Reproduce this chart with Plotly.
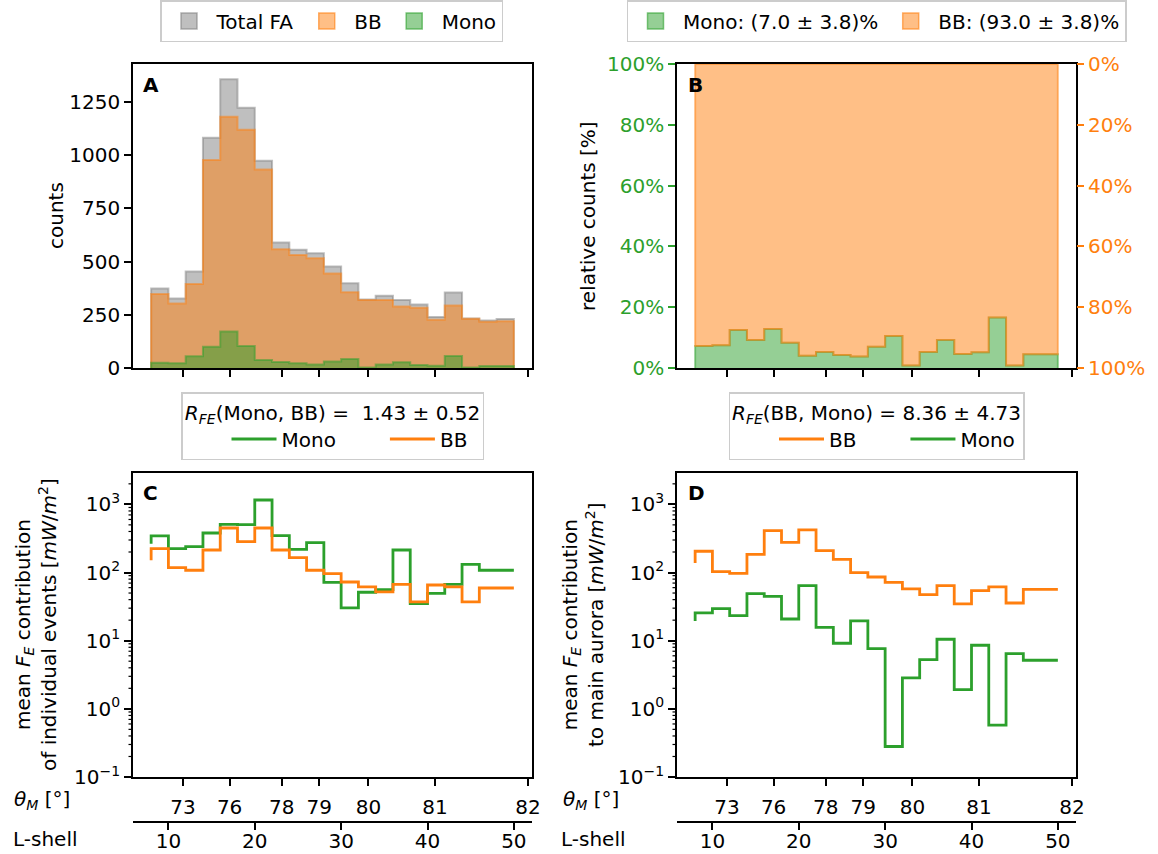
import numpy as np
import plotly.graph_objects as go

# ---------------- data ----------------
L_edges = [8, 10, 12, 14, 16, 18, 20, 22, 24, 26, 28, 30, 32, 34, 36, 38, 40, 42, 44, 46, 48, 50]
theta_ticks = [73, 76, 78, 79, 80, 81, 82]
L_ticks = [10, 20, 30, 40, 50]
pct_ticks = [0, 20, 40, 60, 80, 100]
count_ticks = [0, 250, 500, 750, 1000, 1250]
log_ticks = [-1, 0, 1, 2, 3]

total_counts = [373, 327, 453, 1081, 1356, 1222, 973, 589, 555, 539, 477, 398, 322, 339, 320, 298, 239, 355, 233, 223, 230]
bb_counts = [348, 303, 395, 977, 1180, 1119, 933, 558, 531, 516, 444, 356, 320, 320, 289, 283, 227, 294, 231, 217, 220]
mono_counts = [25, 22, 55, 100, 172, 103, 37, 28, 22, 17, 31, 42, 2, 16, 27, 14, 11, 56, 2, 9, 9]

mono_pct = [7.2, 7.5, 12.5, 9.2, 12.8, 8.3, 4.0, 5.3, 4.3, 3.8, 7.0, 10.5, 0.8, 5.3, 9.2, 4.6, 5.2, 16.6, 0.8, 4.5, 4.5]

# panel C: mean F_E contribution of individual events (first value = start point)
mono_fe_ind = [265, 344, 224, 239, 380, 509, 504, 1158, 348, 219, 274, 71.8, 30.2, 51.3, 56.1, 214, 34.9, 49.5, 67.1, 132, 108, 108]
bb_fe_ind = [151, 224, 118, 108, 214, 450, 284, 450, 214, 165, 108, 96.2, 72.6, 61.4, 51.9, 67.1, 37.0, 65.6, 61.4, 37.0, 59.3, 59.3]

# panel D: mean F_E contribution to main aurora (first value = start point)
bb_fe_main = [138, 205, 103, 97.4, 185, 411, 277, 421, 209, 156, 99.6, 86.0, 71.8, 57.4, 47.3, 64.1, 34.6, 54.2, 61.4, 35.7, 56.7, 56.7]
mono_fe_main = [19.5, 25.5, 29.5, 23.3, 49.0, 44.8, 20.8, 64.1, 15.7, 9.16, 19.5, 7.66, 0.280, 2.84, 5.28, 10.5, 1.92, 8.57, 0.575, 6.46, 5.16, 5.16]

# ---------------- styling ----------------
W, H = 1158, 854
FONT = "DejaVu Sans"
FS = 20
GREEN = "#2ca02c"
ORANGE = "#ff7f0e"
GRAY = "#808080"


def fx(px):
    return px / W


def fy(py):
    return 1 - py / H


def rgba(hexc, a):
    h = hexc.lstrip("#")
    return f"rgba({int(h[0:2],16)},{int(h[2:4],16)},{int(h[4:6],16)},{a})"


XL_PX = (133, 532)
XR_PX = (677, 1076)
XL = [fx(XL_PX[0]), fx(XL_PX[1])]
XR = [fx(XR_PX[0]), fx(XR_PX[1])]
YT = [fy(368), fy(64)]
YB = [fy(777), fy(473)]
x_range = [5.9, 52.1]
log_range = [-1, 3.46]
theta_pos = [1.0 / np.cos(np.radians(t)) ** 2 for t in theta_ticks]
minor_vals = [k * 10.0 ** n for n in range(-1, 4) for k in range(2, 10) if np.log10(k * 10.0 ** n) < log_range[1]]


def hist_path(edges, vals):
    x = [edges[0]] + list(edges[:-1]) + [edges[-1], edges[-1]]
    y = [0] + list(vals) + [vals[-1], 0]
    return x, y


def step_vertices(edges, vals):
    xs = list(np.repeat(edges, 2)[1:-1])
    ys = list(np.repeat(vals, 2))
    return xs, ys


def legend_patch(name, col, legend):
    fig.add_trace(go.Scatter(x=[None], y=[None], mode="markers", name=name, legend=legend,
                             marker=dict(symbol="square", size=22, color=rgba(col, 0.5),
                                         line=dict(color=rgba(col, 0.6), width=1.5)),
                             xaxis="x", yaxis="y", hoverinfo="skip"))


fig = go.Figure()

# ---- panel A ----
for name, vals, col in [("Total FA", total_counts, GRAY), ("BB", bb_counts, ORANGE), ("Mono", mono_counts, GREEN)]:
    x, y = hist_path(L_edges, vals)
    fig.add_trace(go.Scatter(x=x, y=y, mode="lines", line=dict(shape="hv", color=rgba(col, 0.5), width=2),
                             fill="tozeroy", fillcolor=rgba(col, 0.5), name=name, showlegend=False,
                             xaxis="x", yaxis="y", hoverinfo="skip"))
    legend_patch(name, col, "legend")

# ---- panel B ----
x, y = hist_path(L_edges, mono_pct)
fig.add_trace(go.Scatter(x=x, y=y, mode="lines", line=dict(shape="hv", color=rgba(GREEN, 0.5), width=2),
                         fill="tozeroy", fillcolor=rgba(GREEN, 0.5), name="Mono", showlegend=False,
                         xaxis="x2", yaxis="y2", hoverinfo="skip"))
sx, sy = step_vertices(L_edges, mono_pct)
px_ = [L_edges[0], L_edges[-1]] + sx[::-1] + [L_edges[0]]
py_ = [pct_ticks[-1], pct_ticks[-1]] + sy[::-1] + [pct_ticks[-1]]
fig.add_trace(go.Scatter(x=px_, y=py_, mode="lines", line=dict(color=rgba(ORANGE, 0.5), width=2),
                         fill="toself", fillcolor=rgba(ORANGE, 0.5), name="BB", showlegend=False,
                         xaxis="x2", yaxis="y2", hoverinfo="skip"))
legend_patch("Mono: (7.0 ± 3.8)%", GREEN, "legend2")
legend_patch("BB: (93.0 ± 3.8)%", ORANGE, "legend2")
fig.add_trace(go.Scatter(x=[None], y=[pct_ticks[1]], mode="markers", marker=dict(opacity=0),
                         xaxis="x2", yaxis="y5", showlegend=False, hoverinfo="skip"))

# ---- panel C ----
fig.add_trace(go.Scatter(x=L_edges, y=mono_fe_ind, mode="lines", line=dict(shape="vh", color=GREEN, width=2.8),
                         name="Mono", legend="legend3", xaxis="x3", yaxis="y3", hoverinfo="skip"))
fig.add_trace(go.Scatter(x=L_edges, y=bb_fe_ind, mode="lines", line=dict(shape="vh", color=ORANGE, width=2.8),
                         name="BB", legend="legend3", xaxis="x3", yaxis="y3", hoverinfo="skip"))
# ---- panel D ----
fig.add_trace(go.Scatter(x=L_edges, y=bb_fe_main, mode="lines", line=dict(shape="vh", color=ORANGE, width=2.8),
                         name="BB", legend="legend4", xaxis="x4", yaxis="y4", hoverinfo="skip"))
fig.add_trace(go.Scatter(x=L_edges, y=mono_fe_main, mode="lines", line=dict(shape="vh", color=GREEN, width=2.8),
                         name="Mono", legend="legend4", xaxis="x4", yaxis="y4", hoverinfo="skip"))
# helper traces for L-shell axes
fig.add_trace(go.Scatter(x=L_ticks, y=[None] * len(L_ticks), xaxis="x5", yaxis="y3", showlegend=False, hoverinfo="skip"))
fig.add_trace(go.Scatter(x=L_ticks, y=[None] * len(L_ticks), xaxis="x6", yaxis="y4", showlegend=False, hoverinfo="skip"))

# minor log ticks: short marks placed along the log axis (paper fraction of the log scale)
for left_px in [XL_PX[0], XR_PX[0]]:
    for v in minor_vals:
        frac = (np.log10(v) - log_range[0]) / (log_range[1] - log_range[0])
        yp = float(YB[0] + frac * (YB[1] - YB[0]))
        fig.add_shape(type="line", xref="paper", yref="paper", x0=fx(left_px - 4.5), x1=fx(left_px - 0.8),
                      y0=yp, y1=yp, line=dict(color="black", width=1.2), layer="above")

axis_common = dict(showgrid=False, zeroline=False, showline=True, linecolor="black", linewidth=1.6,
                   ticks="outside", ticklen=7, tickwidth=1.6, tickcolor="black", automargin=False,
                   tickfont=dict(family=FONT, size=FS, color="black"))

theta_text = [str(t) for t in theta_ticks]
pct_text = [f"{p}%" for p in pct_ticks]
count_text = [str(c) for c in count_ticks]
L_text = [str(v) for v in L_ticks]
log_text = ["10<sup>\u22121</sup>", "10<sup>0</sup>", "10<sup>1</sup>", "10<sup>2</sup>", "10<sup>3</sup>"]

leg_common = dict(bordercolor="#cccccc", borderwidth=1.5, bgcolor="white", font=dict(family=FONT, size=FS),
                  traceorder="normal", orientation="h", xanchor="center", itemwidth=45)

fig.update_layout(
    template="none",
    width=W, height=H, margin=dict(l=0, r=0, t=0, b=0, autoexpand=False),
    paper_bgcolor="white", plot_bgcolor="white",
    font=dict(family=FONT, size=FS, color="black"),
    xaxis=dict(domain=XL, anchor="y", range=x_range, tickvals=theta_pos, showticklabels=False, mirror=True, **axis_common),
    yaxis=dict(domain=YT, anchor="x", range=[0, 1428], tickvals=count_ticks, ticktext=count_text, mirror=True, **axis_common),
    xaxis2=dict(domain=XR, anchor="y2", range=x_range, tickvals=theta_pos, showticklabels=False, mirror=True, **axis_common),
    yaxis2=dict(domain=YT, anchor="x2", range=[0, 100], tickvals=pct_ticks, ticktext=pct_text, mirror=True,
                **{**axis_common, "tickcolor": GREEN, "tickfont": dict(family=FONT, size=FS, color=GREEN)}),
    yaxis5=dict(overlaying="y2", anchor="x2", side="right", range=[100, 0], tickvals=pct_ticks, ticktext=pct_text,
                showgrid=False, zeroline=False, showline=False, ticks="outside", ticklen=7, tickwidth=1.6,
                automargin=False, tickcolor=ORANGE, tickfont=dict(family=FONT, size=FS, color=ORANGE)),
    xaxis3=dict(domain=XL, anchor="y3", range=x_range, tickvals=theta_pos, ticktext=theta_text, mirror=True,
                ticklabelstandoff=4, **axis_common),
    yaxis3=dict(domain=YB, anchor="x3", type="log", range=log_range, tickvals=[10.0 ** k for k in log_ticks],
                ticktext=log_text, mirror=True, **axis_common),
    xaxis4=dict(domain=XR, anchor="y4", range=x_range, tickvals=theta_pos, ticktext=theta_text, mirror=True,
                ticklabelstandoff=4, **axis_common),
    yaxis4=dict(domain=YB, anchor="x4", type="log", range=log_range, tickvals=[10.0 ** k for k in log_ticks],
                ticktext=log_text, mirror=True, **axis_common),
    xaxis5=dict(overlaying="x3", anchor="free", position=fy(822), range=x_range, tickvals=L_ticks, ticktext=L_text,
                ticklabelstandoff=-6, **axis_common),
    xaxis6=dict(overlaying="x4", anchor="free", position=fy(822), range=x_range, tickvals=L_ticks, ticktext=L_text,
                ticklabelstandoff=-6, **axis_common),
    legend=dict(x=fx(331.5), y=1, yanchor="top", **leg_common),
    legend2=dict(x=fx(876.5), y=1, yanchor="top", **leg_common),
    legend3=dict(x=fx(332.5), y=fy(392), yanchor="top", indentation=44,
                 title=dict(text="<i>R</i><sub><i>FE</i></sub>(Mono, BB) =  1.43 ± 0.52", side="top center",
                            font=dict(family=FONT, size=FS)), **leg_common),
    legend4=dict(x=fx(876.5), y=fy(392), yanchor="top", indentation=44,
                 title=dict(text="<i>R</i><sub><i>FE</i></sub>(BB, Mono) = 8.36 ± 4.73", side="top center",
                            font=dict(family=FONT, size=FS)), **leg_common),
)


def ann(text, px, py, angle=0, xanchor="center", yanchor="middle", bold=False, size=FS):
    fig.add_annotation(text=f"<b>{text}</b>" if bold else text, x=fx(px), y=fy(py), xref="paper", yref="paper",
                       showarrow=False, textangle=angle, xanchor=xanchor, yanchor=yanchor,
                       font=dict(family=FONT, size=size, color="black"))


ann("A", 141, 85, xanchor="left", bold=True)
ann("B", 686, 85, xanchor="left", bold=True)
ann("C", 141, 493, xanchor="left", bold=True)
ann("D", 686, 493, xanchor="left", bold=True)
ann("counts", 56, 216, angle=-90)
ann("relative counts [%]", 588, 216, angle=-90)
ann("mean <i>F</i><sub><i>E</i></sub> contribution<br>of individual events [<i>mW</i>/<i>m</i><sup>2</sup>]", 36, 625, angle=-90)
ann("mean <i>F</i><sub><i>E</i></sub> contribution<br>to main aurora [<i>mW</i>/<i>m</i><sup>2</sup>]", 583, 625, angle=-90)
ann("<i>θ</i><sub><i>M</i></sub> [°]", 42, 800)
ann("<i>θ</i><sub><i>M</i></sub> [°]", 591, 800)
ann("L-shell", 45, 839)
ann("L-shell", 593, 839)

fig.write_html("out.html")
